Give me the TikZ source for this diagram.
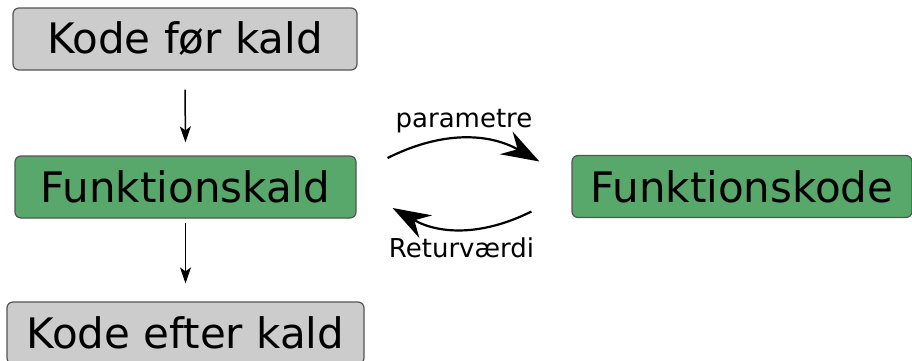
\documentclass[tikz,border=0pt]{standalone}
\usepackage{fontspec}
\setmainfont{DejaVu Sans}
\usepackage{tikz}
\usetikzlibrary{arrows.meta}
\definecolor{kodegraa}{rgb}{0.80, 0.80, 0.80}
\definecolor{kaldgroen}{rgb}{0.35, 0.66, 0.42}
\definecolor{kantgraa}{rgb}{0.33, 0.33, 0.33}

\begin{document}
\begin{tikzpicture}[x=1pt,y=1pt,
        boks/.style={draw=kantgraa, line width=1.2pt, rounded corners=6pt,
            minimum height=62pt, inner sep=0pt,
            font=\fontsize{42}{46}\selectfont},
        graaboks/.style={boks, fill=kodegraa},
        groenboks/.style={boks, fill=kaldgroen},
        pil/.style={-{Stealth[length=16pt,width=11pt,inset=4pt]}, line width=1.5pt},
        buepil/.style={-{Stealth[length=38pt,width=26pt,inset=13pt]}, line width=2.2pt},
        etiket/.style={inner sep=0pt, font=\fontsize{26}{30}\selectfont},
    ]
        \useasboundingbox (0,0) rectangle (912,360);
        \node[graaboks, minimum width=344pt] (kodefoer) at (185,321) {Kode før kald};
        \node[groenboks, minimum width=341pt] (funkkald) at (185.5,173) {Funktionskald};
        \node[graaboks, minimum width=357pt] (kodeefter) at (185.5,27) {Kode efter kald};
        \node[groenboks, minimum width=340pt] (funkkode) at (742,173.5) {Funktionskode};

        \draw[pil] ([yshift=-19pt]kodefoer.south) -- ([yshift=13pt]funkkald.north);
        \draw[pil] ([yshift=-4pt]funkkald.south) -- ([yshift=18pt]kodeefter.north);

        \draw[buepil] ([xshift=31pt,yshift=29pt]funkkald.east) to[bend left=28]
            node[etiket, midway, above=5pt] {parametre}
            ([xshift=-32pt,yshift=25pt]funkkode.west);
        \draw[buepil] ([xshift=-40pt,yshift=-25pt]funkkode.west) to[bend left=28]
            node[etiket, midway, below=8pt] {Returværdi}
            ([xshift=36pt,yshift=-21pt]funkkald.east);
    \end{tikzpicture}
\end{document}
